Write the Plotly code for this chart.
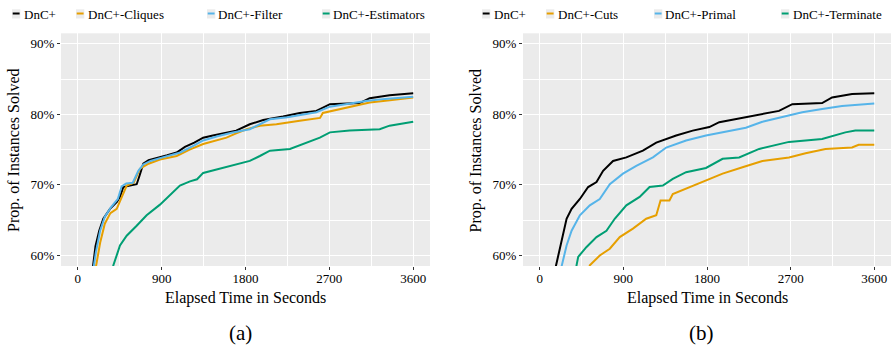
import plotly.graph_objects as go

W, H = 891, 345

# ---------------- data (seconds, % solved) ----------------
# Panel (a)
a_dnc_x = [150, 190, 230, 274, 346, 420, 453, 489, 560, 632, 660, 703, 760, 882, 960, 1061, 1150, 1250, 1346, 1450, 1596, 1700, 1846, 1990, 2203, 2382, 2561, 2680, 2706, 3025, 3133, 3346, 3600]
a_dnc_y = [57.0, 61.3, 63.5, 65.2, 66.6, 67.6, 68.3, 69.7, 69.9, 70.1, 71.2, 73.0, 73.5, 73.9, 74.2, 74.6, 75.4, 76.0, 76.7, 77.0, 77.4, 77.7, 78.6, 79.2, 79.7, 80.2, 80.5, 81.2, 81.45, 81.6, 82.3, 82.7, 83.0]

a_cliques_x = [150, 200, 240, 290, 350, 418, 470, 525, 600, 668, 760, 882, 1061, 1200, 1346, 1500, 1596, 1700, 1811, 1953, 2132, 2382, 2600, 2630, 2918, 3133, 3350, 3600]
a_cliques_y = [55.0, 59.0, 61.8, 64.5, 66.0, 66.6, 68.2, 69.9, 70.3, 72.3, 73.0, 73.6, 74.1, 75.0, 75.8, 76.4, 76.7, 77.3, 77.9, 78.4, 78.6, 79.1, 79.5, 80.2, 81.0, 81.7, 82.0, 82.4]

a_filter_x = [150, 195, 240, 290, 360, 430, 471, 520, 590, 650, 703, 780, 882, 1000, 1100, 1250, 1346, 1500, 1650, 1846, 1950, 2062, 2250, 2450, 2561, 2706, 2900, 3090, 3300, 3600]
a_filter_y = [56.5, 60.5, 63.5, 65.5, 66.9, 68.0, 69.8, 70.2, 70.3, 72.0, 72.9, 73.4, 73.8, 74.2, 74.6, 75.6, 76.3, 76.9, 77.4, 77.9, 78.6, 79.3, 79.6, 80.0, 80.3, 81.1, 81.5, 81.9, 82.2, 82.5]

a_estim_x = [350, 382, 453, 525, 632, 739, 882, 989, 1096, 1204, 1280, 1346, 1525, 1739, 1846, 1954, 2062, 2277, 2416, 2598, 2706, 2918, 3240, 3346, 3600]
a_estim_y = [56.5, 58.6, 61.4, 62.8, 64.2, 65.7, 67.2, 68.5, 69.9, 70.5, 70.8, 71.7, 72.3, 73.0, 73.4, 74.1, 74.85, 75.1, 75.8, 76.7, 77.45, 77.7, 77.9, 78.4, 78.95]

# Panel (b)
b_dnc_x = [140, 175, 236, 289, 343, 432, 521, 611, 682, 789, 932, 1110, 1254, 1468, 1646, 1825, 1932, 2146, 2361, 2575, 2718, 3039, 3146, 3361, 3600]
b_dnc_y = [56.5, 58.6, 62.4, 65.2, 66.6, 68.0, 69.7, 70.4, 72.0, 73.4, 73.9, 74.85, 76.0, 77.0, 77.7, 78.2, 78.9, 79.4, 80.0, 80.5, 81.45, 81.6, 82.4, 82.9, 83.0]

b_cuts_x = [520, 539, 646, 754, 861, 1003, 1146, 1254, 1300, 1396, 1432, 1611, 1789, 1968, 2182, 2396, 2682, 2861, 3075, 3361, 3432, 3600]
b_cuts_y = [57.5, 58.6, 60.0, 60.95, 62.6, 63.8, 65.2, 65.7, 67.8, 67.8, 68.7, 69.7, 70.7, 71.6, 72.5, 73.4, 73.9, 74.5, 75.1, 75.3, 75.7, 75.7]

b_primal_x = [200, 236, 289, 343, 432, 539, 646, 754, 896, 1039, 1218, 1361, 1575, 1789, 2039, 2218, 2396, 2611, 2825, 3039, 3253, 3600]
b_primal_y = [56.5, 58.6, 61.4, 63.5, 65.7, 67.1, 68.0, 70.1, 71.6, 72.7, 73.9, 75.3, 76.3, 77.0, 77.7, 78.1, 78.95, 79.6, 80.3, 80.75, 81.2, 81.55]

b_term_x = [380, 396, 414, 504, 611, 718, 807, 932, 1075, 1182, 1325, 1432, 1575, 1789, 1968, 2146, 2361, 2575, 2682, 3039, 3289, 3396, 3600]
b_term_y = [56.5, 58.6, 59.8, 61.2, 62.6, 63.5, 65.2, 67.1, 68.3, 69.7, 69.9, 70.85, 71.8, 72.4, 73.7, 73.9, 75.1, 75.8, 76.1, 76.5, 77.45, 77.7, 77.7]

x_ticks = [0, 900, 1800, 2700, 3600]
y_ticks = [60, 70, 80, 90]
y_tick_text = ["60%", "70%", "80%", "90%"]

colors = {"black": "#000000", "orange": "#E69F00", "blue": "#56B4E9", "green": "#009E73"}

panel_a = [("DnC+", a_dnc_x, a_dnc_y, colors["black"]),
           ("DnC+-Cliques", a_cliques_x, a_cliques_y, colors["orange"]),
           ("DnC+-Filter", a_filter_x, a_filter_y, colors["blue"]),
           ("DnC+-Estimators", a_estim_x, a_estim_y, colors["green"])]
panel_b = [("DnC+", b_dnc_x, b_dnc_y, colors["black"]),
           ("DnC+-Cuts", b_cuts_x, b_cuts_y, colors["orange"]),
           ("DnC+-Primal", b_primal_x, b_primal_y, colors["blue"]),
           ("DnC+-Terminate", b_term_x, b_term_y, colors["green"])]

FONT = "Liberation Serif"

fig = go.Figure()

def px(x):
    return x / W

def py(y):
    return 1 - y / H

for name, xs, ys, c in panel_a:
    fig.add_trace(go.Scatter(x=xs, y=ys, mode="lines", name=name,
                             line=dict(color=c, width=2), xaxis="x", yaxis="y",
                             showlegend=False))
for name, xs, ys, c in panel_b:
    fig.add_trace(go.Scatter(x=xs, y=ys, mode="lines", name=name,
                             line=dict(color=c, width=2), xaxis="x2", yaxis="y2",
                             showlegend=False))

ydom = [py(266), py(33.3)]

def xax(domain, anchor):
    return dict(domain=domain, anchor=anchor, range=[-180, 3780],
                tickvals=x_ticks, ticktext=[str(v) for v in x_ticks],
                ticks="outside", ticklen=3, tickwidth=1, tickcolor="#333333",
                ticklabelstandoff=-3,
                tickfont=dict(family=FONT, size=13, color="#000000"),
                showgrid=True, gridcolor="#FFFFFF", gridwidth=1.2,
                minor=dict(dtick=450, tick0=0, showgrid=True, gridcolor="#FFFFFF", gridwidth=0.9, ticks=""),
                zeroline=False, showline=False, automargin=False, fixedrange=True)

def yax(anchor):
    return dict(domain=ydom, anchor=anchor, range=[58.5, 91.5],
                tickvals=y_ticks, ticktext=y_tick_text,
                ticks="outside", ticklen=3, tickwidth=1, tickcolor="#333333",
                tickfont=dict(family=FONT, size=13, color="#000000"),
                showgrid=True, gridcolor="#FFFFFF", gridwidth=1.2,
                minor=dict(dtick=5, tick0=60, showgrid=True, gridcolor="#FFFFFF", gridwidth=0.9, ticks=""),
                zeroline=False, showline=False, automargin=False, fixedrange=True)

xdom_a = [px(61), px(430)]
xdom_b = [px(523), 1.0]

fig.update_layout(
    width=W, height=H,
    margin=dict(l=0, r=0, t=0, b=0),
    paper_bgcolor="#FFFFFF",
    plot_bgcolor="#EBEBEB",
    showlegend=False,
    font=dict(family=FONT),
    xaxis=xax(xdom_a, "y"), yaxis=yax("x"),
    xaxis2=xax(xdom_b, "y2"), yaxis2=yax("x2"),
)

shapes = []
annotations = []

# legends (drawn manually to match positions)
leg_a = [(12, 22), (76, 86), (207, 216), (322, 331)]
leg_b = [(482, 492), (546, 556), (654, 663), (781, 791)]
for items, pos in ((panel_a, leg_a), (panel_b, leg_b)):
    for (name, _, _, c), (kx, tx) in zip(items, pos):
        shapes.append(dict(type="rect", xref="paper", yref="paper",
                           x0=px(kx), x1=px(kx + 8.3), y0=py(18.5), y1=py(9.3),
                           fillcolor="#EBEBEB", line=dict(width=0), layer="above"))
        shapes.append(dict(type="line", xref="paper", yref="paper",
                           x0=px(kx + 0.7), x1=px(kx + 7.6), y0=py(13.5), y1=py(13.5),
                           line=dict(color=c, width=2), layer="above"))
        annotations.append(dict(text=name, xref="paper", yref="paper",
                                x=px(tx), y=py(14.5), xanchor="left", yanchor="middle",
                                showarrow=False, font=dict(family=FONT, size=13, color="#000000")))

# axis titles and captions
for cx, ytx in ((245.5, 14), (707.5, 475.5)):
    annotations.append(dict(text="Elapsed Time in Seconds", xref="paper", yref="paper",
                            x=px(cx), y=py(298), xanchor="center", yanchor="middle",
                            showarrow=False, font=dict(family=FONT, size=16, color="#000000")))
    annotations.append(dict(text="Prop. of Instances Solved", xref="paper", yref="paper",
                            x=px(ytx), y=py(150), xanchor="center", yanchor="middle", textangle=-90,
                            showarrow=False, font=dict(family=FONT, size=16, color="#000000")))

annotations.append(dict(text="(a)", xref="paper", yref="paper", x=px(240), y=py(333),
                        xanchor="center", yanchor="middle", showarrow=False,
                        font=dict(family=FONT, size=21, color="#000000")))
annotations.append(dict(text="(b)", xref="paper", yref="paper", x=px(701.5), y=py(333),
                        xanchor="center", yanchor="middle", showarrow=False,
                        font=dict(family=FONT, size=21, color="#000000")))

fig.update_layout(shapes=shapes, annotations=annotations)

fig.write_html("out.html")
